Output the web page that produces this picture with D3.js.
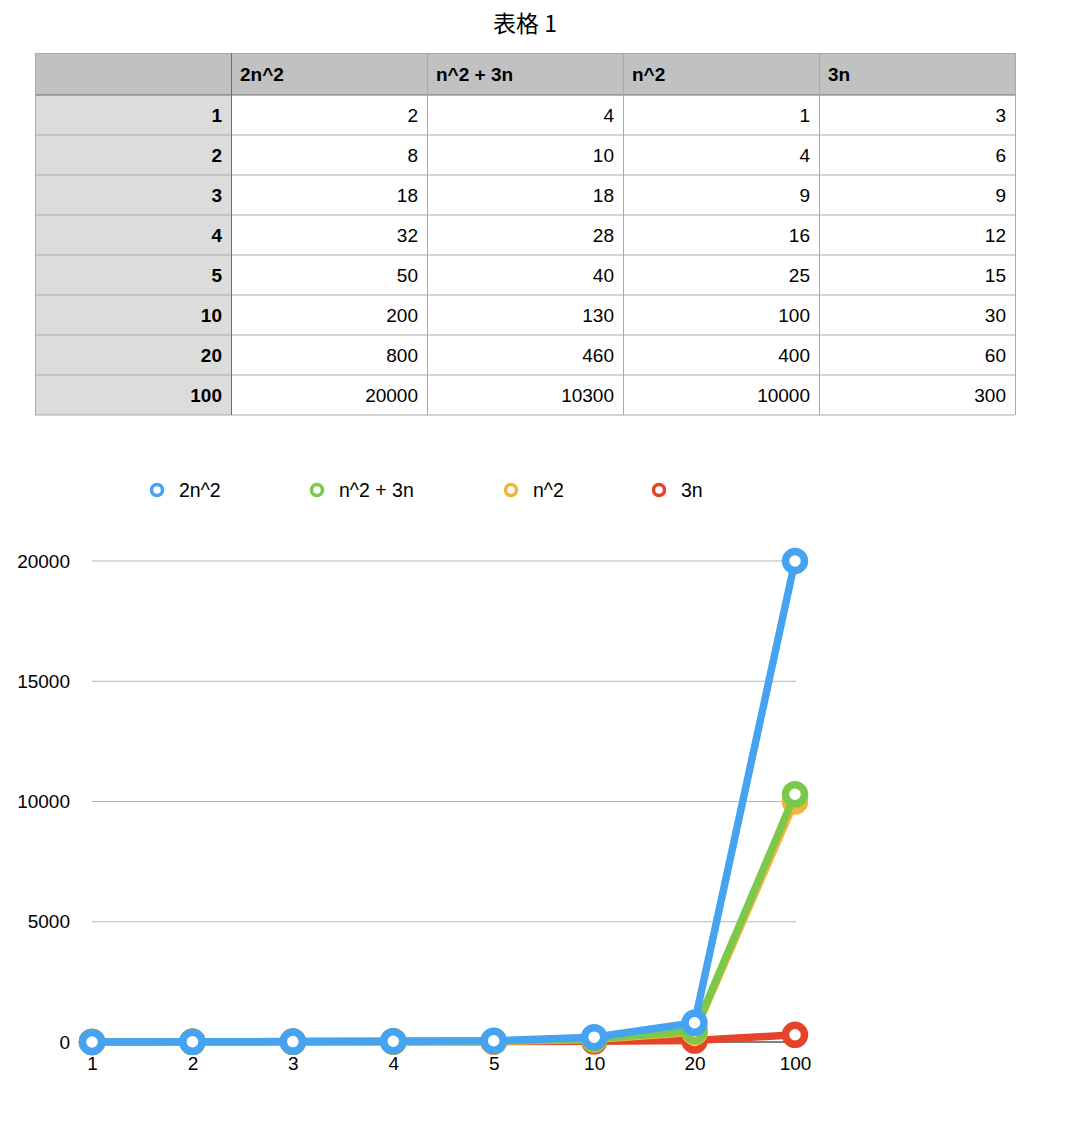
<!DOCTYPE html>
<html><head><meta charset="utf-8">
<script src="https://cdn.jsdelivr.net/npm/d3@7"></script>
<style>body{margin:0;background:#fff;font-family:"Liberation Sans",Arial,sans-serif}</style>
</head><body>
<svg id="c" width="1084" height="1122"></svg>
<script>
const categories = ["1","2","3","4","5","10","20","100"];
const seriesNames = ["2n^2","n^2 + 3n","n^2","3n"];
const s2n2 = [2,8,18,32,50,200,800,20000];
const sn2p3n = [4,10,18,28,40,130,460,10300];
const sn2 = [1,4,9,16,25,100,400,10000];
const s3n = [3,6,9,12,15,30,60,300];
const yTicks = [0,5000,10000,15000,20000];
const colors = ["#45a3f2","#7cc84a","#f0b63c","#e6432b"];
const title = "表格 1";

const series = [s2n2, sn2p3n, sn2, s3n];
const svg = d3.select("#c");
const font = '"Liberation Sans",Arial,sans-serif';
const fs = 19;

svg.append("text").attr("x",525).attr("y",32).attr("text-anchor","middle")
  .attr("font-family",'"Noto Sans CJK SC",sans-serif').attr("font-size",23).text(title);

// table
const tx = i => 35 + i*196;
const rowY = d3.scaleLinear().domain([0,1]).range([95,135]);
const tg = svg.append("g");
tg.append("rect").attr("x",35).attr("y",53).attr("width",980).attr("height",42).attr("fill","#c0c1c0");
tg.append("rect").attr("x",35).attr("y",95).attr("width",196).attr("height",320).attr("fill","#dcdcdc");
for(let r=0;r<=categories.length;r++){
  tg.append("line").attr("x1",35).attr("x2",1015).attr("y1",rowY(r)).attr("y2",rowY(r))
    .attr("stroke", r===0?"#6e6e6e":"#a9a9a9").attr("stroke-width",1);
}
tg.append("line").attr("x1",35).attr("x2",1015).attr("y1",53.5).attr("y2",53.5).attr("stroke","#a9a9a9");
for(let c=0;c<=5;c++){
  tg.append("line").attr("x1",tx(c)+0.5).attr("x2",tx(c)+0.5).attr("y1",53).attr("y2",415)
    .attr("stroke", c===1?"#6e6e6e":"#a9a9a9");
}
seriesNames.forEach((n,i)=>{
  tg.append("text").attr("x",tx(i+1)+9).attr("y",81).attr("font-family",font).attr("font-weight","bold")
    .attr("font-size",fs).text(n);
});
categories.forEach((c,r)=>{
  const y = rowY(r)+27;
  tg.append("text").attr("x",tx(1)-9).attr("y",y).attr("text-anchor","end").attr("font-family",font)
    .attr("font-weight","bold").attr("font-size",fs).text(c);
  series.forEach((s,i)=>{
    tg.append("text").attr("x",tx(i+2)-9).attr("y",y).attr("text-anchor","end").attr("font-family",font)
      .attr("font-size",fs).text(s[r]);
  });
});

// legend
const legX = [157,317,511,659];
seriesNames.forEach((n,i)=>{
  svg.append("circle").attr("cx",legX[i]).attr("cy",490).attr("r",5.5).attr("fill","#fff")
    .attr("stroke",colors[i]).attr("stroke-width",3.5);
  svg.append("text").attr("x",legX[i]+22).attr("y",497).attr("font-family",font).attr("font-size",fs+0.5).text(n);
});

// chart
const x = d3.scalePoint().domain(categories).range([92,795]);
const y = d3.scaleLinear().domain([0,20000]).range([1042,561]);
const g = svg.append("g");
g.selectAll("line.grid").data(yTicks).join("line").attr("class","grid")
  .attr("x1",92).attr("x2",796).attr("y1",d=>y(d)).attr("y2",d=>y(d))
  .attr("stroke",d=>d===0?"#000":"#b5b5b5").attr("stroke-width",1.2);
const yAxis = d3.axisLeft(y).tickValues(yTicks).tickSize(0).tickPadding(0).tickFormat(d3.format("d"));
const ya = svg.append("g").attr("transform","translate(70,0)").call(yAxis);
ya.select(".domain").remove();
ya.selectAll("text").attr("font-family",font).attr("font-size",fs).attr("fill","#000").attr("dy","0.32em");
const xAxis = d3.axisBottom(x).tickSize(0).tickPadding(0);
const xa = svg.append("g").attr("transform","translate(0,1056)").call(xAxis);
xa.select(".domain").remove();
xa.selectAll("text").attr("font-family",font).attr("font-size",fs).attr("fill","#000").attr("dy","0.71em");

const line = d3.line().x((d,i)=>x(categories[i])).y(d=>y(d));
for(let i=series.length-1;i>=0;i--){
  const s = series[i];
  const sg = g.append("g");
  sg.append("path").datum(s).attr("d",line).attr("fill","none").attr("stroke",colors[i])
    .attr("stroke-width",7.5).attr("stroke-linejoin","round");
  sg.selectAll("circle").data(s).join("circle").attr("cx",(d,j)=>x(categories[j])).attr("cy",d=>y(d))
    .attr("r",9.5).attr("fill","#fff").attr("stroke",colors[i]).attr("stroke-width",7.5);
}
</script>
</body></html>
